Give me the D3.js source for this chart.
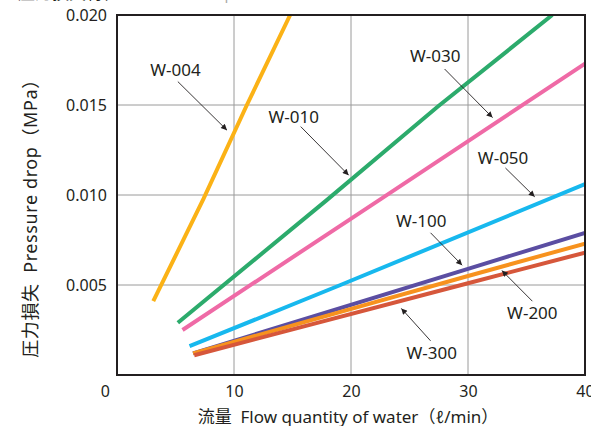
<!DOCTYPE html>
<html>
<head>
<meta charset="utf-8">
<script src="https://cdn.jsdelivr.net/npm/d3@7"></script>
<style>
  body { margin: 0; background: #fff; }
  svg { display: block; font-family: "Noto Sans", "Noto Sans CJK JP", sans-serif; }
</style>
</head>
<body>
<svg id="chart"></svg>
<script>
// series: [flow l/min, pressure drop MPa]
const models = ['W-004', 'W-010', 'W-030', 'W-050', 'W-100', 'W-200', 'W-300'];
const w004 = [[3.1, 0.0041], [7.4, 0.0098], [11.1, 0.0150], [14.8, 0.0200]];
const w010 = [[5.2, 0.0029], [17.9, 0.0097], [27.4, 0.0149], [37.2, 0.0200]];
const w030 = [[5.6, 0.0025], [22.6, 0.0098], [40, 0.0173]];
const w050 = [[6.2, 0.0016], [19.1, 0.0050], [40, 0.0106]];
const w100 = [[6.5, 0.0012], [30, 0.0059], [40, 0.0079]];
const w200 = [[6.5, 0.0012], [30, 0.0055], [40, 0.0073]];
const w300 = [[6.6, 0.0011], [30, 0.0051], [40, 0.0068]];
const xTicks = [10, 20, 30, 40];
const yTicks = [0.005, 0.010, 0.015, 0.020];

// label text position, arrow start, arrow end (data units)
const labels = [
  { name: 'W-004', text: [5.0, 0.0166], from: [5.2, 0.0163], to: [9.4, 0.0136] },
  { name: 'W-010', text: [15.1, 0.0140], from: [15.7, 0.0138], to: [19.8, 0.0111] },
  { name: 'W-030', text: [27.2, 0.0174], from: [28.0, 0.0170], to: [32.1, 0.0143] },
  { name: 'W-050', text: [33.0, 0.0117], from: [33.2, 0.0115], to: [35.7, 0.0099] },
  { name: 'W-100', text: [26.0, 0.0082], from: [26.8, 0.0079], to: [29.5, 0.0061] },
  { name: 'W-200', text: [35.5, 0.0031], from: [35.5, 0.0041], to: [32.9, 0.0058] },
  { name: 'W-300', text: [26.9, 0.0009], from: [26.8, 0.0019], to: [24.3, 0.0037] }
];

const series = [w004, w010, w030, w050, w100, w200, w300];
const colors = ['#fbb216', '#2cab6c', '#ef6aa6', '#17b8ee', '#5b4ea2', '#f7921e', '#d6573b'];

const W = 591, H = 426;
const m = { left: 117, right: 6, top: 15, bottom: 51 };

const svg = d3.select('#chart').attr('width', W).attr('height', H);

const x = d3.scaleLinear().domain([0, 40]).range([m.left, W - m.right]);
const y = d3.scaleLinear().domain([0, 0.020]).range([H - m.bottom, m.top]);

svg.append('defs').append('clipPath').attr('id', 'plot')
  .append('rect')
  .attr('x', x(0)).attr('y', y(0.020))
  .attr('width', x(40) - x(0)).attr('height', y(0) - y(0.020));

svg.append('defs').append('marker')
  .attr('id', 'arrow')
  .attr('viewBox', '0 0 10 10')
  .attr('refX', 10).attr('refY', 5)
  .attr('markerWidth', 9).attr('markerHeight', 6)
  .attr('markerUnits', 'userSpaceOnUse')
  .attr('orient', 'auto')
  .append('path').attr('d', 'M0,0L10,5L0,10Z').attr('fill', '#231f20');

// cut-off heading at the very top
svg.append('text').attr('x', 18).attr('y', -1)
  .attr('font-size', 17).attr('fill', '#231f20').text('圧力損失特性');
svg.append('text').attr('x', 135).attr('y', -1)
  .attr('font-size', 15).attr('fill', '#aaa').text('Pressure drop curves');

// grid
svg.append('g').selectAll('line').data(xTicks.slice(0, -1)).join('line')
  .attr('x1', d => x(d)).attr('x2', d => x(d))
  .attr('y1', y(0)).attr('y2', y(0.020))
  .attr('stroke', '#9a9a9a').attr('stroke-width', 1);
svg.append('g').selectAll('line').data(yTicks.slice(0, -1)).join('line')
  .attr('x1', x(0)).attr('x2', x(40))
  .attr('y1', d => y(d)).attr('y2', d => y(d))
  .attr('stroke', '#9a9a9a').attr('stroke-width', 1);

// axes
const xAxis = svg.append('g')
  .attr('transform', `translate(0,${y(0)})`)
  .call(d3.axisBottom(x).tickValues(xTicks).tickSize(0).tickPadding(8).tickFormat(d3.format('d')));
const yAxis = svg.append('g')
  .attr('transform', `translate(${x(0)},0)`)
  .call(d3.axisLeft(y).tickValues(yTicks).tickSize(0).tickPadding(10).tickFormat(d3.format('.3f')));
[xAxis, yAxis].forEach(g => {
  g.select('.domain').remove();
  g.selectAll('text').attr('font-size', 16).attr('fill', '#231f20')
    .attr('font-family', '"Noto Sans", sans-serif');
});
xAxis.selectAll('text').attr('dy', '0.9em');

svg.append('text')
  .attr('x', x(0) - 7).attr('y', y(0) + 22)
  .attr('text-anchor', 'end').attr('font-size', 16).attr('fill', '#231f20')
  .text('0');

// lines
const line = d3.line().x(d => x(d[0])).y(d => y(d[1]));
svg.append('g').attr('clip-path', 'url(#plot)')
  .selectAll('path').data(series).join('path')
  .attr('d', line)
  .attr('fill', 'none')
  .attr('stroke', (d, i) => colors[i])
  .attr('stroke-width', 4);

// frame
svg.append('rect')
  .attr('x', x(0)).attr('y', y(0.020))
  .attr('width', x(40) - x(0)).attr('height', y(0) - y(0.020))
  .attr('fill', 'none').attr('stroke', '#231f20').attr('stroke-width', 2);

// annotations
const ann = svg.append('g');
ann.selectAll('line').data(labels).join('line')
  .attr('x1', d => x(d.from[0])).attr('y1', d => y(d.from[1]))
  .attr('x2', d => x(d.to[0])).attr('y2', d => y(d.to[1]))
  .attr('stroke', '#231f20').attr('stroke-width', 0.9)
  .attr('marker-end', 'url(#arrow)');
ann.selectAll('text').data(labels).join('text')
  .attr('x', d => x(d.text[0])).attr('y', d => y(d.text[1]))
  .attr('text-anchor', 'middle')
  .attr('font-size', 17).attr('fill', '#231f20')
  .text(d => d.name);

// axis titles
svg.append('text')
  .attr('transform', `translate(37,${(y(0) + y(0.020)) / 2 + 19}) rotate(-90)`)
  .attr('text-anchor', 'middle').attr('font-size', 18).attr('letter-spacing', 0.6)
  .attr('fill', '#231f20').style('white-space', 'pre')
  .text('圧力損失  Pressure drop（MPa）');
svg.append('text')
  .attr('x', 348).attr('y', 423)
  .attr('text-anchor', 'middle').attr('font-size', 17).attr('fill', '#231f20')
  .style('white-space', 'pre')
  .text('流量  Flow quantity of water（ℓ/min）');
</script>
</body>
</html>
